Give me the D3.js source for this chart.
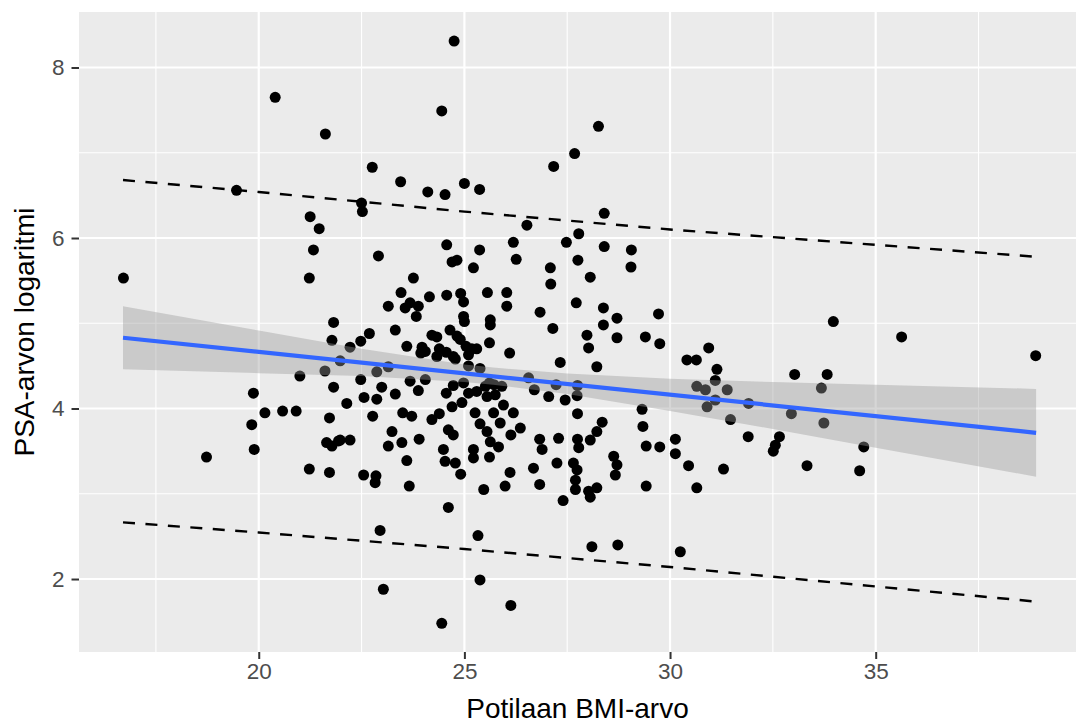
<!DOCTYPE html>
<html lang="fi">
<head>
    <meta charset="UTF-8">
    <title>PSA ja BMI</title>
    <script src="https://d3js.org/d3.v7.min.js" charset="utf-8"></script>
    <style>
        body { margin: 0; background: #fff; }
        text { font-family: "Liberation Sans", Arial, Helvetica, sans-serif; }
    </style>
</head>
<body>
<script>

    // potilaiden BMI ja log(PSA), luettu kuvasta
    var bmi = [
        24.75, 20.40, 21.62, 24.45, 28.26, 27.68, 27.17, 22.76, 23.45, 24.11,
        24.53, 25.00, 25.37, 19.46, 22.50, 22.52, 28.40, 26.52, 27.78, 26.19,
        24.57, 27.48, 28.40, 29.06, 25.37, 21.25, 21.47, 21.33, 22.91, 24.70,
        24.82, 25.22, 26.26, 27.09, 27.10, 27.76, 28.06, 29.05, 23.76, 23.46,
        24.15, 24.57, 24.91, 24.98, 25.56, 26.03, 26.03, 23.15, 23.56, 23.68,
        23.88, 23.83, 24.98, 25.00, 25.63, 25.63, 26.84, 27.72, 28.38, 28.71,
        29.72, 27.15, 28.38, 23.32, 22.69, 22.48, 22.22, 24.21, 24.33, 24.65,
        24.82, 24.90, 23.60, 23.97, 24.05, 23.94, 24.39, 24.56, 24.33, 24.73,
        24.78, 25.04, 25.18, 25.30, 25.10, 25.61, 26.10, 27.98, 28.02, 28.71,
        29.40, 29.75, 27.33, 28.22, 30.41, 30.64, 23.15, 22.87, 25.10, 25.38,
        21.98, 22.48, 22.99, 23.68, 23.88, 24.05, 23.32, 24.56, 24.73, 24.98,
        25.10, 25.30, 25.51, 25.61, 25.72, 25.91, 25.55, 25.75, 26.56, 26.70,
        27.05, 27.23, 27.45, 27.75, 27.74, 22.14, 22.56, 22.87, 22.77, 23.50,
        23.72, 24.21, 24.39, 24.70, 24.94, 25.26, 25.71, 25.95, 26.19, 25.38,
        25.55, 25.87, 26.13, 26.36, 24.61, 24.73, 25.63, 25.83, 23.24, 23.48,
        23.15, 23.90, 22.22, 24.49, 25.22, 25.22, 25.61, 23.60, 24.53, 24.78,
        24.91, 26.83, 26.89, 27.29, 27.75, 27.78, 28.06, 28.22, 28.35, 27.75,
        29.32, 29.34, 29.42, 29.75, 30.13, 30.13, 30.45, 28.63, 28.71, 28.67,
        26.68, 27.25, 27.65, 27.74, 27.70, 26.11, 22.55, 22.85, 22.83, 23.66,
        25.47, 25.99, 26.83, 27.70, 28.02, 28.22, 29.42, 30.65, 21.98, 27.40,
        28.06, 24.61, 22.95, 25.33, 28.10, 28.73, 30.25, 23.03, 25.38, 26.13,
        24.45, 33.97, 35.63, 38.89, 30.94, 31.14, 31.10, 31.39, 30.86, 31.10,
        30.90, 30.65, 31.91, 31.47, 33.03, 33.82, 33.68, 32.95, 33.74, 31.90,
        32.66, 32.56, 32.51, 34.71, 31.30, 33.33, 34.61, 16.71, 21.23, 21.82,
        21.78, 21.00, 21.61, 21.82, 19.87, 20.15, 20.58, 20.91, 21.72, 19.83,
        19.89, 18.73, 21.65, 21.78, 21.94, 21.23, 21.72
    ];
    var logPsa = [
        8.31, 7.65, 7.22, 7.49, 7.31, 6.99, 6.84, 6.83, 6.66, 6.54,
        6.51, 6.64, 6.57, 6.56, 6.41, 6.31, 6.29, 6.15, 6.05, 5.95,
        5.92, 5.95, 5.90, 5.86, 5.86, 6.25, 6.11, 5.86, 5.79, 5.72,
        5.74, 5.65, 5.75, 5.65, 5.46, 5.74, 5.54, 5.66, 5.53, 5.36,
        5.31, 5.33, 5.35, 5.25, 5.36, 5.36, 5.20, 5.20, 5.18, 5.24,
        5.20, 5.08, 5.08, 5.02, 5.04, 4.98, 5.13, 5.24, 5.18, 5.06,
        5.11, 4.94, 4.98, 4.92, 4.88, 4.79, 4.72, 4.86, 4.84, 4.92,
        4.85, 4.81, 4.73, 4.72, 4.67, 4.65, 4.70, 4.66, 4.61, 4.61,
        4.58, 4.73, 4.70, 4.70, 4.63, 4.77, 4.65, 4.86, 4.71, 4.83,
        4.84, 4.76, 4.54, 4.49, 4.57, 4.57, 4.49, 4.43, 4.50, 4.47,
        4.56, 4.34, 4.25, 4.32, 4.21, 4.34, 4.17, 4.18, 4.27, 4.30,
        4.18, 4.20, 4.26, 4.30, 4.28, 4.26, 4.14, 4.16, 4.36, 4.22,
        4.14, 4.28, 4.10, 4.27, 4.15, 4.06, 4.13, 4.11, 3.91, 3.95,
        3.91, 3.87, 3.94, 4.02, 4.07, 3.95, 3.95, 4.04, 3.95, 3.82,
        3.73, 3.83, 3.69, 3.77, 3.75, 3.69, 3.61, 3.55, 3.73, 3.60,
        3.56, 3.64, 3.63, 3.52, 3.52, 3.42, 3.43, 3.39, 3.38, 3.36,
        3.23, 3.64, 3.52, 3.65, 3.64, 3.54, 3.63, 3.73, 3.84, 3.94,
        3.99, 3.79, 3.56, 3.55, 3.64, 3.47, 3.33, 3.44, 3.34, 3.22,
        3.30, 3.36, 3.36, 3.28, 3.16, 3.25, 3.22, 3.21, 3.13, 3.09,
        3.05, 3.09, 3.11, 3.05, 3.03, 3.07, 3.09, 3.07, 3.63, 2.92,
        2.96, 2.84, 2.57, 2.51, 2.38, 2.40, 2.32, 1.88, 1.99, 1.69,
        1.48, 5.02, 4.84, 4.62, 4.71, 4.46, 4.33, 4.22, 4.22, 4.10,
        4.02, 4.26, 4.06, 3.87, 4.40, 4.40, 4.24, 3.94, 3.83, 3.67,
        3.67, 3.57, 3.50, 3.55, 3.29, 3.33, 3.27, 5.53, 5.53, 5.01,
        4.80, 4.38, 4.44, 4.25, 4.18, 3.95, 3.97, 3.97, 3.89, 3.81,
        3.52, 3.43, 3.60, 3.56, 3.62, 3.29, 3.25
    ];

    // regressiosuora ja sen luottamusvyö
    var fitX = [16.7, 38.9];
    var fitY = [4.83, 3.715];
    var bandX  = [16.7, 20, 22.5, 25, 25.7, 27.5, 30, 32.5, 35, 38.9];
    var bandHi = [5.20, 4.915, 4.70, 4.515, 4.48, 4.41, 4.35, 4.31, 4.28, 4.23];
    var bandLo = [4.46, 4.415, 4.38, 4.31, 4.28, 4.17, 3.97, 3.76, 3.54, 3.20];

    // ennusteväli (katkoviivat)
    var predX  = [16.7, 20, 25, 30, 35, 38.9];
    var predHi = [6.68, 6.54, 6.31, 6.10, 5.92, 5.78];
    var predLo = [2.665, 2.546, 2.352, 2.141, 1.913, 1.735];

    // akselien jaot
    var xTicks = [20, 25, 30, 35];
    var xMinor = [17.5, 22.5, 27.5, 32.5, 37.5];
    var yTicks = [2, 4, 6, 8];
    var yMinor = [3, 5, 7];

    // kangas (huom: "top" on varattu window-muuttuja)
    var width = 1076;
    var height = 727;
    var panelL = 79, panelR = 1076, panelT = 12, panelB = 652;

    var svg = d3.select("body")
        .append("svg")
        .attr("width", width)
        .attr("height", height);

    var x = d3.scaleLinear().domain([15.63, 39.87]).range([panelL, panelR]);
    var y = d3.scaleLinear().domain([1.144, 8.651]).range([panelB, panelT]);

    // paneelin tausta
    svg.append("rect")
        .attr("x", panelL)
        .attr("y", panelT)
        .attr("width", panelR - panelL)
        .attr("height", panelB - panelT)
        .attr("fill", "#EBEBEB");

    var grid = svg.append("g");
    grid.selectAll(".xmin").data(xMinor).enter().append("line")
        .attr("x1", function (d) { return x(d); }).attr("x2", function (d) { return x(d); })
        .attr("y1", panelT).attr("y2", panelB)
        .attr("stroke", "#fff").attr("stroke-width", 1.1);
    grid.selectAll(".ymin").data(yMinor).enter().append("line")
        .attr("y1", function (d) { return y(d); }).attr("y2", function (d) { return y(d); })
        .attr("x1", panelL).attr("x2", panelR)
        .attr("stroke", "#fff").attr("stroke-width", 1.1);
    grid.selectAll(".xmaj").data(xTicks).enter().append("line")
        .attr("x1", function (d) { return x(d); }).attr("x2", function (d) { return x(d); })
        .attr("y1", panelT).attr("y2", panelB)
        .attr("stroke", "#fff").attr("stroke-width", 2.2);
    grid.selectAll(".ymaj").data(yTicks).enter().append("line")
        .attr("y1", function (d) { return y(d); }).attr("y2", function (d) { return y(d); })
        .attr("x1", panelL).attr("x2", panelR)
        .attr("stroke", "#fff").attr("stroke-width", 2.2);

    // pisteet
    var points = d3.range(bmi.length).map(function (i) {
        return {x: bmi[i], y: logPsa[i]};
    });
    svg.append("g")
        .selectAll("circle")
        .data(points)
        .enter()
        .append("circle")
        .attr("cx", function (d) { return x(d.x); })
        .attr("cy", function (d) { return y(d.y); })
        .attr("r", 5.5)
        .attr("fill", "#000");

    // luottamusvyö pisteiden päälle
    var band = d3.range(bandX.length).map(function (i) {
        return {x: bandX[i], lo: bandLo[i], hi: bandHi[i]};
    });
    svg.append("path")
        .datum(band)
        .attr("d", d3.area()
            .x(function (d) { return x(d.x); })
            .y0(function (d) { return y(d.lo); })
            .y1(function (d) { return y(d.hi); }))
        .attr("fill", "#999999")
        .attr("fill-opacity", 0.4);

    var line = d3.line()
        .x(function (d) { return x(d[0]); })
        .y(function (d) { return y(d[1]); });

    svg.append("path")
        .datum(d3.zip(fitX, fitY))
        .attr("d", line)
        .attr("fill", "none")
        .attr("stroke", "#3366FF")
        .attr("stroke-width", 4.2);

    [predHi, predLo].forEach(function (vals) {
        svg.append("path")
            .datum(d3.zip(predX, vals))
            .attr("d", line)
            .attr("fill", "none")
            .attr("stroke", "#000")
            .attr("stroke-width", 2.4)
            .attr("stroke-dasharray", "12,10.5");
    });

    // akselit
    var xAxis = svg.append("g")
        .attr("transform", "translate(0," + panelB + ")")
        .call(d3.axisBottom(x).tickValues(xTicks).tickSize(7).tickPadding(4));
    var yAxis = svg.append("g")
        .attr("transform", "translate(" + panelL + ",0)")
        .call(d3.axisLeft(y).tickValues(yTicks).tickSize(7.5).tickPadding(7));

    [xAxis, yAxis].forEach(function (ax) {
        ax.select(".domain").remove();
        ax.selectAll(".tick line").attr("stroke", "#333333").attr("stroke-width", 2);
        ax.selectAll(".tick text")
            .attr("fill", "#4D4D4D")
            .style("font-size", "22.5px")
            .style("font-family", "'Liberation Sans', Arial, sans-serif");
    });

    // akselien otsikot
    svg.append("text")
        .attr("x", (panelL + panelR) / 2)
        .attr("y", 718)
        .attr("text-anchor", "middle")
        .style("font-size", "28px")
        .attr("fill", "#000")
        .text("Potilaan BMI-arvo");

    svg.append("text")
        .attr("transform", "translate(34," + (panelT + panelB) / 2 + ") rotate(-90)")
        .attr("text-anchor", "middle")
        .style("font-size", "28px")
        .attr("fill", "#000")
        .text("PSA-arvon logaritmi");

</script>
</body>
</html>
